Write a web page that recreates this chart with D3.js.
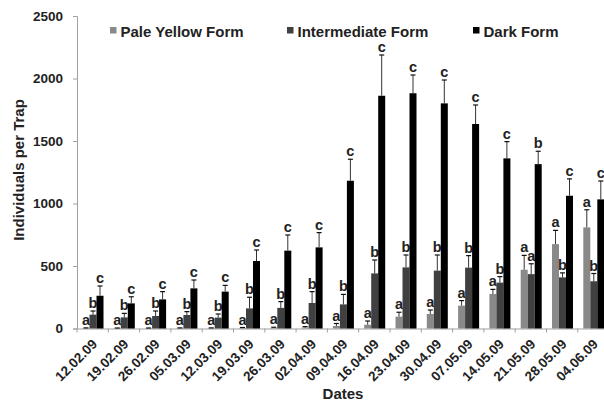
<!DOCTYPE html>
<html>
<head>
<meta charset="utf-8">
<script src="https://cdn.jsdelivr.net/npm/d3@7"></script>
<style>
  body { margin: 0; background: #fff; }
  text { font-family: "Liberation Sans", Arial, sans-serif; font-weight: bold; }
</style>
</head>
<body>
<div id="chart"></div>
<script>
// data
const dates = ["12.02.09", "19.02.09", "26.02.09", "05.03.09", "12.03.09", "19.03.09", "26.03.09", "02.04.09",
    "09.04.09", "16.04.09", "23.04.09", "30.04.09", "07.05.09", "14.05.09", "21.05.09", "28.05.09", "04.06.09"];
const seriesNames = ["Pale Yellow Form", "Intermediate Form", "Dark Form"];

const pale = [3, 2, 2, 3, 3, 5, 6, 8, 20, 30, 95, 116, 183, 276, 470, 675, 809];
const paleErr = [2, 2, 2, 2, 2, 3, 4, 7, 20, 30, 35, 32, 40, 37, 115, 110, 141];
const paleLetters = ["a", "a", "a", "a", "a", "a", "a", "a", "a", "a", "a", "a", "a", "a", "a", "a", "a"];

const inter = [111, 89, 100, 108, 87, 161, 165, 204, 193, 441, 489, 463, 487, 367, 435, 409, 378];
const interErr = [29, 32, 40, 27, 29, 89, 50, 91, 80, 107, 99, 125, 96, 48, 83, 36, 62];
const interLetters = ["b", "b", "b", "b", "b", "b", "b", "b", "b", "b", "b", "b", "b", "b", "a", "b", "b"];

const dark = [262, 201, 233, 321, 295, 540, 623, 649, 1182, 1862, 1882, 1801, 1636, 1361, 1315, 1062, 1033];
const darkErr = [78, 53, 62, 67, 50, 88, 125, 118, 172, 326, 146, 187, 152, 134, 103, 135, 147];
const darkLetters = ["c", "c", "c", "c", "c", "c", "c", "c", "c", "c", "c", "c", "c", "c", "b", "c", "c"];

const yTicks = [0, 500, 1000, 1500, 2000, 2500];

const colors = ["#898989", "#404040", "#000000"];

(function () {
    const w = 604, h = 403;
    const left = 77, top = 16, bottom = 328.5;
    const band = 31.3;

    const svg = d3.select("#chart").append("svg")
        .attr("width", w)
        .attr("height", h);

    const x = d3.scaleBand()
        .domain(dates)
        .range([left, left + band * dates.length])
        .padding(0);

    // three bars per date, group ~21px wide centred in band
    const xs = d3.scaleBand()
        .domain(seriesNames)
        .range([5.5, 26.5])
        .padding(0);

    const y = d3.scaleLinear()
        .domain([0, 2500])
        .range([bottom, top]);

    // y axis
    const yAxis = svg.append("g")
        .attr("transform", `translate(${left},0)`)
        .call(d3.axisLeft(y).tickValues(yTicks).tickFormat(d3.format("d")).tickSize(4).tickPadding(10));
    yAxis.select(".domain").attr("stroke", "#a0a0a0");
    yAxis.selectAll(".tick line").attr("stroke", "#a0a0a0");
    yAxis.selectAll(".tick text")
        .attr("font-size", "13.5px")
        .attr("font-family", "Liberation Sans, Arial, sans-serif")
        .attr("font-weight", "bold")
        .attr("fill", "#222");

    // x axis: labels at band centres, ticks at band edges
    const xAxis = svg.append("g")
        .attr("transform", `translate(0,${bottom})`)
        .call(d3.axisBottom(x).tickSize(0));
    xAxis.select(".domain").attr("stroke", "#a0a0a0");
    xAxis.selectAll(".tick text")
        .attr("x", 0).attr("y", 0)
        .attr("dy", "0.35em")
        .attr("text-anchor", "end")
        .attr("transform", "translate(2,13) rotate(-45)")
        .attr("font-size", "13.5px")
        .attr("font-family", "Liberation Sans, Arial, sans-serif")
        .attr("font-weight", "bold")
        .attr("fill", "#222");

    svg.append("g").selectAll("line")
        .data(dates)
        .enter().append("line")
        .attr("x1", d => x(d)).attr("x2", d => x(d))
        .attr("y1", bottom).attr("y2", bottom + 4)
        .attr("stroke", "#a0a0a0");

    const series = [
        {name: seriesNames[0], vals: pale, err: paleErr, letters: paleLetters, color: colors[0]},
        {name: seriesNames[1], vals: inter, err: interErr, letters: interLetters, color: colors[1]},
        {name: seriesNames[2], vals: dark, err: darkErr, letters: darkLetters, color: colors[2]}
    ];

    series.forEach(s => {
        const rows = dates.map((d, i) => ({date: d, v: s.vals[i], e: s.err[i], l: s.letters[i]}));
        const g = svg.append("g");
        const cx = d => x(d.date) + xs(s.name) + xs.bandwidth() / 2;

        g.selectAll("rect")
            .data(rows)
            .enter().append("rect")
            .attr("x", d => x(d.date) + xs(s.name))
            .attr("y", d => y(d.v))
            .attr("width", xs.bandwidth())
            .attr("height", d => y(0) - y(d.v))
            .attr("fill", s.color);

        // error bars (upper only)
        g.selectAll("line.err")
            .data(rows)
            .enter().append("line")
            .attr("class", "err")
            .attr("x1", cx).attr("x2", cx)
            .attr("y1", d => y(d.v)).attr("y2", d => y(d.v + d.e))
            .attr("stroke", "#333").attr("stroke-width", 1);
        g.selectAll("line.cap")
            .data(rows)
            .enter().append("line")
            .attr("class", "cap")
            .attr("x1", d => cx(d) - 2.5).attr("x2", d => cx(d) + 2.5)
            .attr("y1", d => y(d.v + d.e)).attr("y2", d => y(d.v + d.e))
            .attr("stroke", "#111").attr("stroke-width", 1.2);

        // significance letters
        g.selectAll("text")
            .data(rows)
            .enter().append("text")
            .text(d => d.l)
            .attr("x", cx)
            .attr("y", d => y(d.v + d.e) - 3)
            .attr("text-anchor", "middle")
            .attr("font-size", "14.5px")
            .attr("fill", "#222");
    });

    // legend
    const legendX = [110, 287, 473];
    const legend = svg.append("g").selectAll("g")
        .data(series)
        .enter().append("g")
        .attr("transform", (d, i) => `translate(${legendX[i]},27)`);
    legend.append("rect")
        .attr("width", 6.5).attr("height", 6.5)
        .attr("fill", d => d.color);
    legend.append("text")
        .text(d => d.name)
        .attr("x", 10.5).attr("y", 9.5)
        .attr("font-size", "15px")
        .attr("fill", "#222");

    // axis titles
    svg.append("text")
        .text("Dates")
        .attr("x", 343).attr("y", 399)
        .attr("text-anchor", "middle")
        .attr("font-size", "15px")
        .attr("fill", "#222");
    svg.append("text")
        .text("Individuals per Trap")
        .attr("transform", "translate(24,170) rotate(-90)")
        .attr("text-anchor", "middle")
        .attr("font-size", "15px")
        .attr("fill", "#222");
})();
</script>
</body>
</html>
